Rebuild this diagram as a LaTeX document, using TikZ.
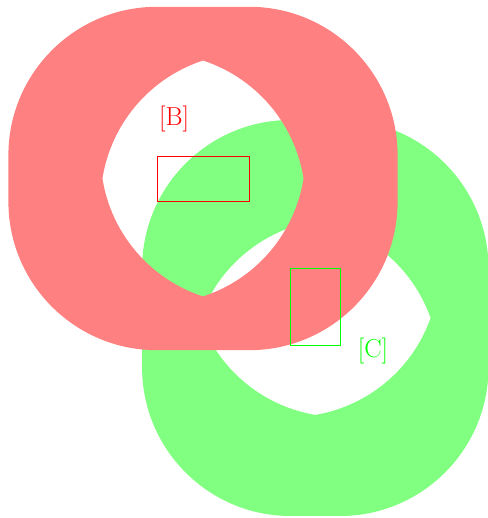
\documentclass[tikz,border=0pt]{standalone}
\usetikzlibrary{calc}

% A thick ring: rounded outer rectangle with a four-arc hole.
% #1 colour, #2 centre, #3 half-width a, #4 half-height b, #5 radius R
\newcommand\ringfill[5]{%
  \begin{scope}[shift={#2}]
    \fill[#1, even odd rule]
      [rounded corners=#5pt] ({-#3-#5},{-#4-#5}) rectangle ({#3+#5},{#4+#5})
      [sharp corners] (0,{#5*sqrt(1-(#3/#5)^2)-#4})
        arc[start angle={acos(#3/#5)}, end angle={asin(#4/#5)}, radius=#5pt]
        arc[start angle={-asin(#4/#5)}, end angle={-acos(#3/#5)}, radius=#5pt]
        arc[start angle={acos(#3/#5)-180}, end angle={asin(#4/#5)-180}, radius=#5pt]
        arc[start angle={180-asin(#4/#5)}, end angle={180-acos(#3/#5)}, radius=#5pt]
        -- cycle;
  \end{scope}}

\tikzset{
  box/.style={draw=#1, line width=0.8pt, inner sep=0pt, outer sep=0pt},
  tag/.style={text=#1, inner sep=0pt, font=\fontsize{26}{31}\selectfont},
}

\begin{document}
\begin{tikzpicture}[x=1pt, y=1pt]
  \useasboundingbox (0,0) rectangle (487,518);

  % rings
  \ringfill{green!50}{(315.3,200)}{24.7}{49.5}{148.5}
  \ringfill{red!50}{(203,339.5)}{46.1}{23.2}{148.5}

  % boxes
  \node[box=red, minimum width=92pt, minimum height=45pt] (boxB) at (203,339.5) {};
  \node[box=green, minimum width=49.3pt, minimum height=76.7pt] (boxC) at (315.35,211.35) {};

  % labels
  \node[tag=red] (labelB) at (174,398.5) {[B]};
  \node[tag=green] (labelC) at (373,166.7) {[C]};
\end{tikzpicture}
\end{document}
